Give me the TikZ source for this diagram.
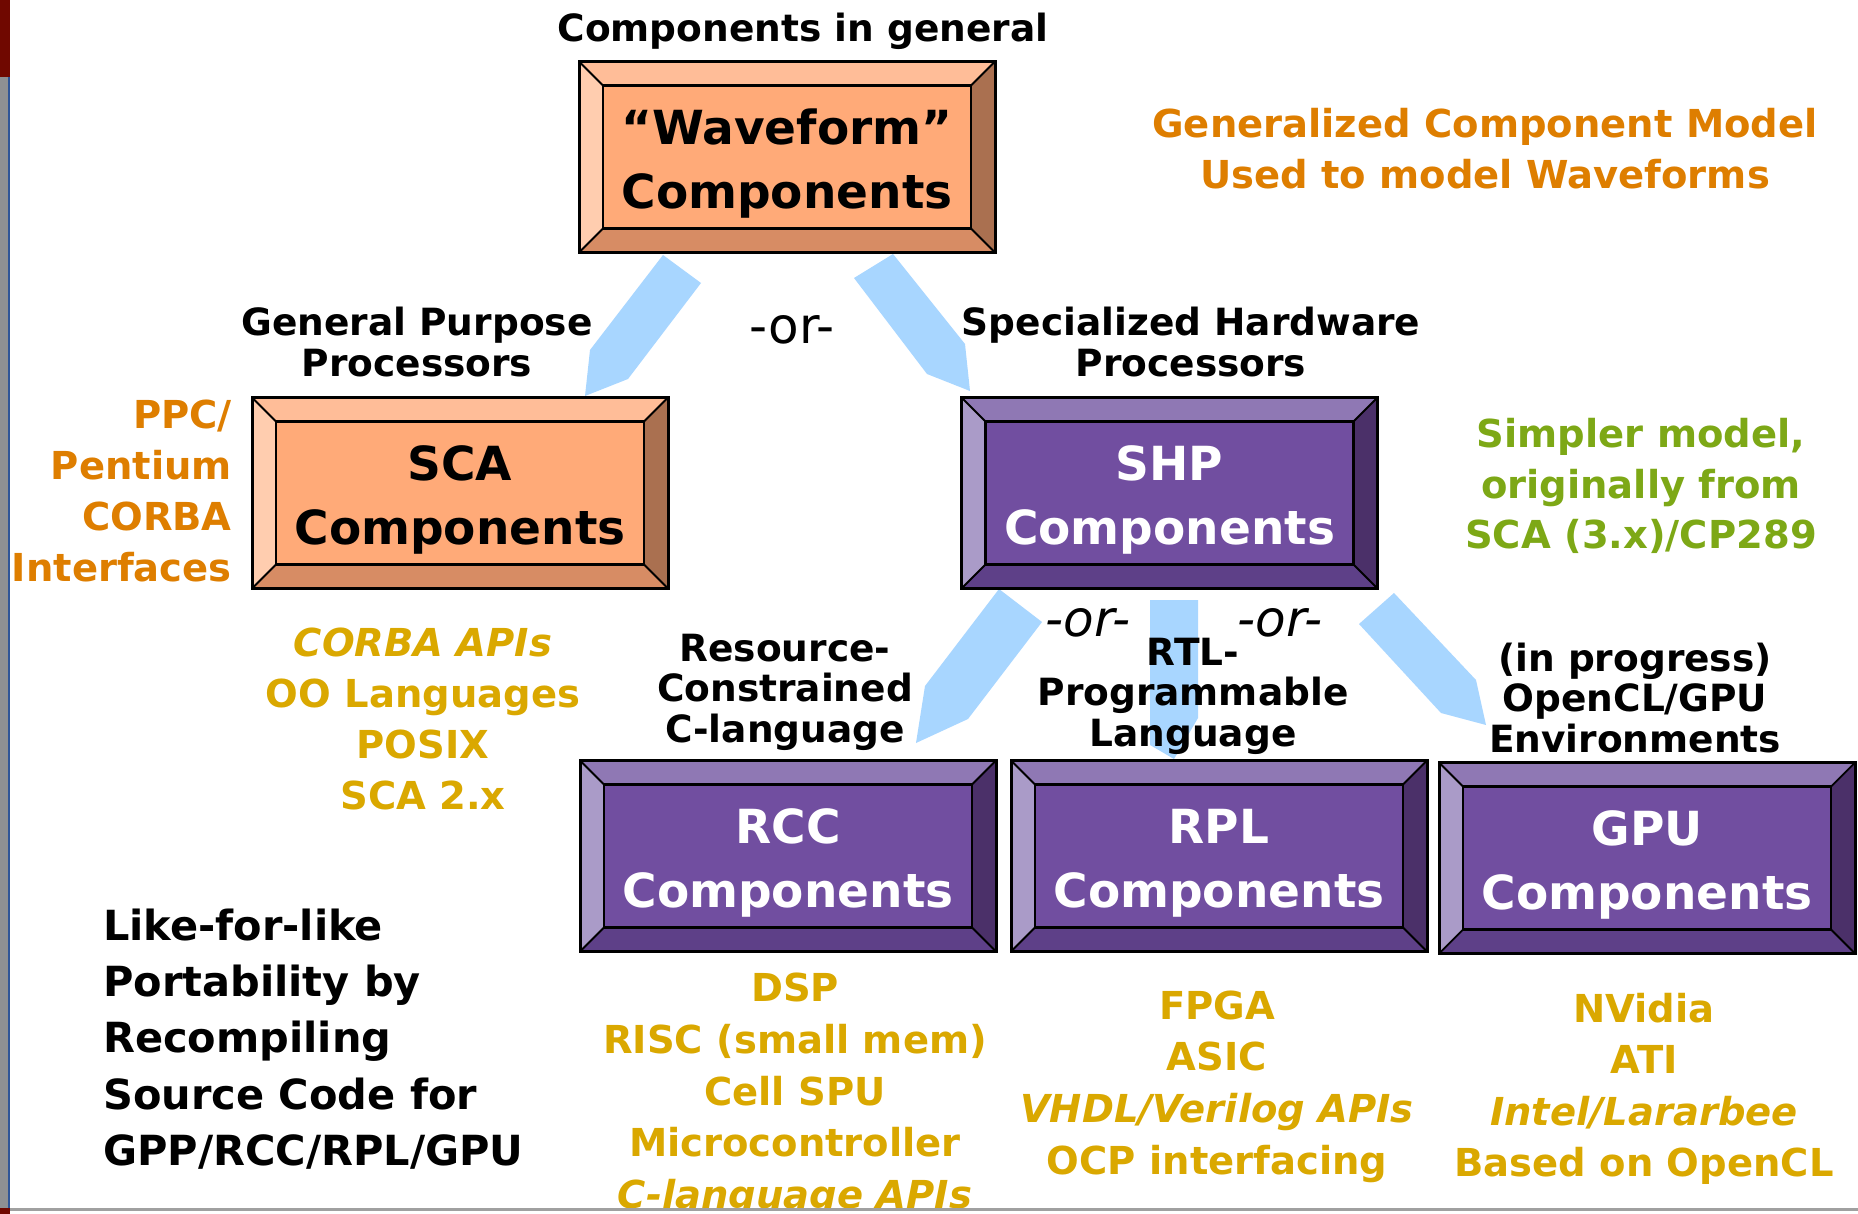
\documentclass[tikz,border=0pt]{standalone}
\usepackage{fontspec}
\setmainfont{DejaVu Sans}
\usetikzlibrary{calc}
\definecolor{arrowblue}{RGB}{168,214,255}
\definecolor{orFace}{RGB}{255,170,120}
\definecolor{orTop}{RGB}{255,189,152}
\definecolor{orLeft}{RGB}{255,205,175}
\definecolor{orBottom}{RGB}{215,140,100}
\definecolor{orRight}{RGB}{170,112,80}
\definecolor{orTxt}{RGB}{0,0,0}
\definecolor{puFace}{RGB}{113,78,160}
\definecolor{puTop}{RGB}{143,120,180}
\definecolor{puLeft}{RGB}{170,155,200}
\definecolor{puBottom}{RGB}{94,64,136}
\definecolor{puRight}{RGB}{75,48,105}
\definecolor{puTxt}{RGB}{255,255,255}
\definecolor{txtorange}{RGB}{222,126,0}
\definecolor{txtgold}{RGB}{218,168,0}
\definecolor{txtgreen}{RGB}{125,168,22}
\definecolor{bordergray}{RGB}{142,144,147}
\definecolor{borderblue}{RGB}{47,85,151}
\definecolor{borderred}{RGB}{112,8,0}
\definecolor{linegray}{RGB}{160,160,160}

\newcommand\bevbox[4]{%
  \node[boxshape, fill=#3Face] (#1) at #2 {};
  \path (#1.north west) ++(24,24) coordinate (#1-a);
  \path (#1.north east) ++(-24,24) coordinate (#1-b);
  \path (#1.south east) ++(-24,-24) coordinate (#1-c);
  \path (#1.south west) ++(24,-24) coordinate (#1-d);
  \fill[#3Top] (#1.north west) -- (#1.north east) -- (#1-b) -- (#1-a) -- cycle;
  \fill[#3Right] (#1.north east) -- (#1.south east) -- (#1-c) -- (#1-b) -- cycle;
  \fill[#3Bottom] (#1.south east) -- (#1.south west) -- (#1-d) -- (#1-c) -- cycle;
  \fill[#3Left] (#1.south west) -- (#1.north west) -- (#1-a) -- (#1-d) -- cycle;
  \draw[line width=2.2pt] (#1-a) rectangle (#1-c);
  \draw[line width=1.8pt] (#1.north west) -- (#1-a) (#1.north east) -- (#1-b)
        (#1.south east) -- (#1-c) (#1.south west) -- (#1-d);
  \draw[line width=3pt] (#1.north west) rectangle (#1.south east);
  \node[boxtext, text=#3Txt] (#1-t) at ($(#1)+(0,7)$) {#4};
}

\begin{document}
\begin{tikzpicture}[x=1pt,y=-1pt,
  boxshape/.style={rectangle, minimum width=416pt, minimum height=191pt, inner sep=0pt, outer sep=0pt},
  boxtext/.style={font=\bfseries\fontsize{47}{64}\selectfont, align=center, inner sep=0pt},
  blk/.style={font=\bfseries\fontsize{37.5}{40.5}\selectfont, align=center, inner sep=0pt},
  clr/.style={font=\bfseries\fontsize{38.5}{51}\selectfont, align=center, inner sep=0pt},
  ortxt/.style={font=\fontsize{50}{55}\selectfont, inner sep=0pt},
  blockarrow/.style={fill=arrowblue}
]
\useasboundingbox (0,0) rectangle (1858,1214);
\fill[white] (0,0) rectangle (1858,1214);

% block arrows
\fill[blockarrow] (663,255) -- (701,283) -- (628,379) -- (585,396) -- (590,350) -- cycle;
\fill[blockarrow] (854,278) -- (893,254) -- (965,344) -- (970,391) -- (927,374) -- cycle;
\fill[blockarrow] (999,589) -- (1042,622) -- (968,719) -- (916,743) -- (925,686) -- cycle;
\fill[blockarrow] (1150,600) -- (1198,600) -- (1198,718) -- (1174,759) -- (1150,745) -- cycle;
\fill[blockarrow] (1394,593) -- (1476,680) -- (1486,725) -- (1441,713) -- (1359,624) -- cycle;

% boxes
\bevbox{wave}{(787,157)}{or}{``Waveform''\\Components}
\bevbox{sca}{(460,493)}{or}{SCA\\Components}
\bevbox{shp}{(1169.5,493)}{pu}{SHP\\Components}
\bevbox{rcc}{(788,856)}{pu}{RCC\\Components}
\bevbox{rpl}{(1219,856)}{pu}{RPL\\Components}
\bevbox{gpu}{(1647,858)}{pu}{GPU\\Components}

% black labels
\node[blk] (general) at (803,31) {Components in general};
\node[blk] (gpp) at (417,342) {General Purpose\\Processors};
\node[blk] (shw) at (1191,342) {Specialized Hardware\\Processors};
\node[blk] (rcl) at (785,692) {Resource-\\Constrained\\C-language};
\node[blk] (rtl) at (1193,696) {RTL-\\Programmable\\Language};
\node[blk] (ocl) at (1635,698) {(in progress)\\OpenCL/GPU\\Environments};
\node[font=\bfseries\fontsize{41.5}{56.3}\selectfont, align=left, inner sep=0pt, anchor=west] (like) at (103,1039)
  {Like-for-like\\Portability by\\Recompiling\\Source Code for\\GPP/RCC/RPL/GPU};

% or labels
\node[ortxt] (or1) at (792,330) {-or-};
\node[ortxt, font=\itshape\fontsize{50}{55}\selectfont] (or2) at (1088,623) {-or-};
\node[ortxt, font=\itshape\fontsize{50}{55}\selectfont] (or3) at (1280,623) {-or-};

% coloured notes
\node[clr, text=txtorange] (gcm) at (1485,149) {Generalized Component Model\\Used to model Waveforms};
\node[clr, text=txtorange, align=right, anchor=east] (ppc) at (232,491) {PPC/\\Pentium\\CORBA\\Interfaces};
\node[clr, text=txtgreen, font=\bfseries\fontsize{38.5}{50.5}\selectfont] (simp) at (1641,486) {Simpler model,\\originally from\\SCA (3.x)/CP289};
\node[clr, text=txtgold] (corba) at (423,719) {\itshape CORBA APIs\\OO Languages\\POSIX\\SCA 2.x};
\node[clr, text=txtgold, font=\bfseries\fontsize{38.5}{51.7}\selectfont] (dsp) at (795,1095) {DSP\\RISC (small mem)\\Cell SPU\\Microcontroller\\\itshape C-language APIs};
\node[clr, text=txtgold, font=\bfseries\fontsize{38.5}{51.7}\selectfont] (fpga) at (1217,1086.5) {FPGA\\ASIC\\\itshape VHDL/Verilog APIs\\OCP interfacing};
\node[clr, text=txtgold, font=\bfseries\fontsize{38.5}{51.3}\selectfont] (nv) at (1644,1089) {NVidia\\ATI\\\itshape Intel/Lararbee\\Based on OpenCL};

% frame decorations
\fill[bordergray] (0,0) rectangle (8,1214);
\fill[borderblue] (8,0) rectangle (10,1208);
\fill[borderred] (0,0) rectangle (10,77);
\fill[white] (0,1210.5) rectangle (1858,1214);
\fill[linegray] (0,1207.5) rectangle (1858,1210.5);
\fill[borderred] (0,1208) rectangle (10,1214);
\end{tikzpicture}
\end{document}
